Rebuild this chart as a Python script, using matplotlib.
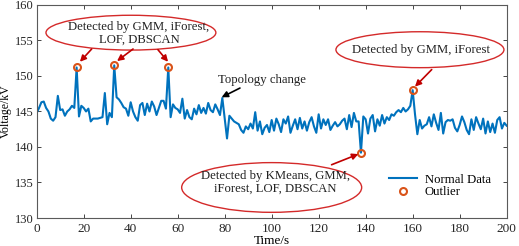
import numpy as np
import matplotlib
matplotlib.use('Agg')
import matplotlib.pyplot as plt
from matplotlib.patches import Ellipse

plt.rcParams['font.family'] = ['Liberation Serif', 'DejaVu Serif']

# voltage readings, one per second (t = 0..200)
voltage = [
    144.8, 145.5, 146.3, 146.4, 145.5, 145.0, 144.0, 143.7, 144.2, 147.2,
    145.2, 145.3, 144.4, 145.0, 145.3, 145.8, 145.5, 151.2, 144.3, 145.8,
    145.5, 145.0, 145.4, 143.6, 144.0, 144.0, 144.0, 144.1, 144.2, 147.6,
    143.2, 144.8, 144.2, 151.5, 147.0, 146.7, 146.2, 145.6, 145.4, 144.4,
    146.3, 145.0, 144.2, 143.7, 145.9, 146.2, 144.5, 146.1, 145.0, 146.4,
    145.7, 144.5, 145.5, 146.5, 146.5, 145.4, 151.2, 144.2, 146.0, 145.5,
    145.3, 144.8, 146.8, 144.0, 145.2, 144.2, 143.9, 145.4, 144.6, 145.9,
    144.8, 145.5, 144.7, 146.2, 145.2, 144.9, 146.0, 145.3, 144.5, 146.9,
    144.0, 141.2, 144.4, 144.0, 143.6, 143.4, 143.2, 142.4, 142.0, 142.9,
    142.5, 143.3, 142.6, 144.9, 142.3, 143.6, 141.8, 142.7, 143.1, 142.1,
    143.8, 142.3, 144.0, 143.2, 142.1, 143.9, 143.3, 144.3, 142.0, 143.0,
    143.9, 142.5, 144.1, 142.6, 143.6, 142.3, 143.5, 144.2, 142.9, 142.0,
    144.6, 142.6, 143.9, 143.1, 143.9, 142.4, 143.0, 143.5, 142.9, 143.2,
    143.7, 144.0, 142.5, 144.5, 142.8, 144.8, 143.6, 143.6, 139.2, 144.3,
    143.9, 141.9, 144.0, 144.5, 142.2, 143.9, 143.0, 144.5, 143.3, 144.2,
    143.8, 144.6, 144.4, 144.9, 145.2, 144.9, 145.5, 145.0, 145.3, 145.8,
    148.0, 144.6, 141.8, 143.8, 142.6, 143.0, 143.2, 144.2, 142.9, 144.6,
    143.4, 142.4, 144.8, 141.9, 143.5, 143.8, 143.7, 143.9, 142.7, 142.2,
    143.1, 144.3, 143.5, 142.4, 141.8, 143.9, 142.4, 144.2, 143.3, 142.5,
    144.0, 141.9, 143.6, 142.1, 143.3, 142.0, 143.8, 144.2, 142.6, 143.4,
    143.0,
]
time = np.arange(len(voltage))
outlier_idx = [17, 33, 56, 138, 160]

blue = '#0072BD'
orange = '#D95319'
red = '#D42A2A'
dark_red = '#C00000'
spine_gray = '#5a5a5a'

fig = plt.figure(figsize=(5.19, 2.46), dpi=100)
ax = fig.add_axes([0.0707, 0.1138, 0.9055, 0.866])

v = np.array(voltage)
ax.plot(time, v, color=blue, lw=1.5, label='Normal Data', zorder=2)
ax.plot(time[outlier_idx], v[outlier_idx], 'o', mfc='none', mec=orange,
        mew=1.5, ms=5, label='Outlier', zorder=3)

ax.set_xlim(0, 200)
ax.set_ylim(130, 160)
ax.set_xticks(np.arange(0, 201, 20))
ax.set_yticks(np.arange(130, 161, 5))
ax.tick_params(direction='in', top=True, right=True, labelsize=9.5,
               colors='#262626', length=3, width=0.6)
ax.tick_params(axis='y', labelsize=9, pad=2.5)
for s in ax.spines.values():
    s.set_color(spine_gray)
    s.set_linewidth(0.8)
ax.set_xlabel('Time/s', fontsize=9.5, labelpad=0)
ax.set_ylabel('Voltage/kV', fontsize=8.5)
ax.yaxis.set_label_coords(-0.053, 0.5)

# callout ellipses
ax.add_patch(Ellipse((40.1, 156.1), 72.3, 4.9, fill=False, ec=red, lw=1.0))
ax.add_patch(Ellipse((163.1, 153.7), 71.5, 5.06, fill=False, ec=red, lw=1.0))
ax.add_patch(Ellipse((100.0, 134.3), 76.6, 7.0, fill=False, ec=red, lw=1.0))

note = dict(ha='center', va='center', fontsize=9.2, color='#222222',
            linespacing=1.1)
ax.text(43.5, 156.0, 'Detected by GMM, iForest,\nLOF, DBSCAN', **note)
ax.text(163.5, 153.7, 'Detected by GMM, iForest', **note)
ax.text(101.6, 135.0, 'Detected by KMeans, GMM,\niForest, LOF, DBSCAN', **note)
ax.text(95.7, 149.5, 'Topology change', **note)

arrows = [
    ((23.4, 153.8), (18.4, 152.0), dark_red),
    ((41.0, 153.8), (34.2, 152.1), dark_red),
    ((51.6, 153.7), (55.9, 152.0), dark_red),
    ((168.1, 150.9), (161.0, 148.5), dark_red),
    ((125.5, 137.5), (136.9, 139.0), dark_red),
    ((86.5, 148.3), (78.7, 147.0), 'black'),
]
for start, end, c in arrows:
    ax.annotate('', xy=end, xytext=start,
                arrowprops=dict(arrowstyle='-|>', color=c, lw=1.2,
                                mutation_scale=9, shrinkA=0, shrinkB=0))

ax.legend(loc='lower right', bbox_to_anchor=(0.985, 0.05), frameon=False,
          fontsize=9.2, handlelength=2.2, labelspacing=0.05, borderpad=0.2,
          handletextpad=0.6)

fig.savefig('out.png', dpi=100)
